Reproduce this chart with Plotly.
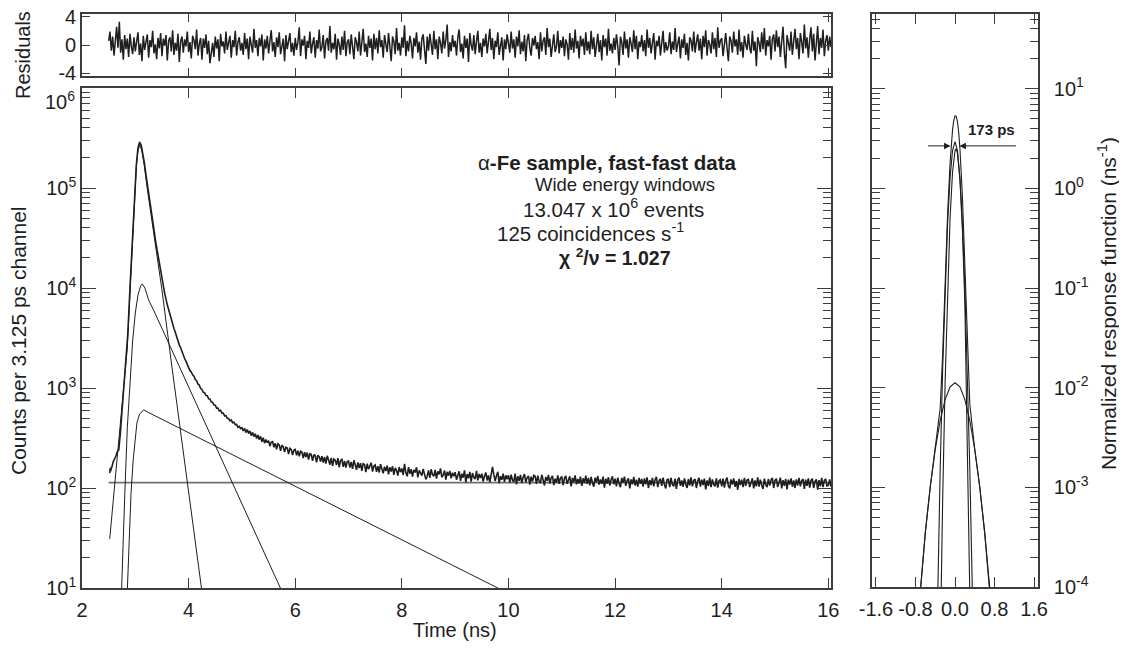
import numpy as np
import plotly.graph_objects as go

# measured spectrum, rise and peak region (ns, counts)
rise_t = [2.52, 2.53, 2.54, 2.55, 2.56, 2.58, 2.60, 2.62, 2.64, 2.66, 2.69, 2.72, 2.75, 2.79,
          2.82, 2.86, 2.90, 2.93, 2.96, 2.99, 3.02, 3.05, 3.08, 3.11, 3.14, 3.17, 3.20, 3.22,
          3.26, 3.30, 3.34, 3.38, 3.44, 3.50, 3.55, 3.60, 3.625, 3.65, 3.675, 3.70, 3.725,
          3.75, 3.775, 3.80, 3.825, 3.85, 3.875, 3.90, 3.925, 3.95, 3.975]
rise_counts = [141, 158, 147, 163, 160, 180, 189, 204, 211, 230, 240, 355, 600, 1120,
               1900, 3550, 10000, 22400, 45700, 91200, 174000, 251000, 288000, 269000, 224000, 178000, 135000, 112000,
               81000, 57500, 41700, 29500, 18600, 12000, 8900, 6790, 6030, 5460, 4850, 4390, 3930,
               3610, 3230, 2970, 2700, 2530, 2300, 2150, 1970, 1855, 1690]

# measured spectrum, tail: one channel every 0.025 ns from 4.0 ns
tail_start = 4.0
tail_step = 0.025
tail_counts = [
    1598, 1490, 1447, 1352, 1310, 1215, 1181, 1098, 1069, 990, 968, 905, 899, 843, 836, 781, 778, 725, 720, 676,
    672, 630, 631, 590, 598, 560, 561, 527, 529, 498, 496, 470, 480, 449, 455, 430, 433, 405, 414, 392,
    401, 372, 396, 358, 384, 350, 371, 334, 360, 327, 349, 312, 339, 305, 328, 290, 318, 281, 306, 284,
    297, 262, 288, 291, 255, 281, 243, 277, 270, 235, 268, 259, 229, 256, 251, 218, 249, 242, 214, 240,
    243, 212, 236, 208, 233, 229, 199, 228, 204, 226, 192, 220, 216, 187, 216, 210, 181, 213, 205, 184,
    208, 180, 204, 175, 210, 191, 171, 200, 166, 195, 190, 170, 199, 161, 189, 193, 163, 186, 160, 184,
    186, 160, 182, 155, 189, 171, 152, 180, 158, 177, 148, 175, 171, 144, 175, 154, 169, 179, 146, 166,
    170, 145, 165, 143, 173, 157, 140, 163, 148, 167, 137, 161, 146, 165, 135, 159, 150, 133, 162, 144,
    157, 135, 174, 142, 131, 162, 139, 154, 130, 152, 143, 161, 128, 150, 139, 133, 155, 137, 122, 131,
    150, 126, 154, 136, 131, 152, 124, 147, 137, 157, 128, 135, 150, 121, 145, 133, 148, 125, 142, 131,
    144, 121, 137, 147, 118, 139, 127, 150, 114, 138, 125, 145, 116, 141, 128, 123, 148, 119, 138, 126,
    139, 116, 132, 143, 119, 134, 114, 140, 163, 136, 117, 133, 145, 112, 131, 121, 139, 115, 134, 122,
    134, 113, 136, 120, 115, 139, 109, 131, 118, 135, 112, 128, 138, 114, 127, 132, 108, 130, 116, 134,
    131, 110, 133, 117, 112, 136, 115, 106, 129, 118, 135, 111, 126, 132, 107, 124, 113, 134, 110, 126,
    129, 107, 125, 132, 110, 122, 131, 104, 126, 114, 134, 109, 123, 111, 130, 105, 125, 112, 133, 110,
    126, 106, 129, 113, 103, 127, 114, 132, 108, 122, 110, 130, 101, 124, 111, 128, 106, 121, 131, 109,
    124, 104, 127, 111, 102, 126, 113, 130, 105, 119, 125, 99, 122, 109, 129, 106, 121, 103, 126, 110,
    123, 103, 125, 109, 128, 100, 120, 107, 126, 104, 121, 129, 102, 118, 124, 105, 127, 108, 99, 121,
    122, 102, 126, 108, 104, 124, 98, 120, 127, 105, 119, 103, 125, 109, 100, 123, 106, 128, 104, 119,
    123, 100, 118, 126, 103, 121, 107, 124, 97, 119, 105, 127, 102, 122, 108, 104, 125, 101, 118, 121,
    104, 124, 101, 119, 127, 105, 99, 122, 108, 125, 103, 118, 96, 123, 107, 121, 102, 126, 105, 120,
    122, 102, 117, 125, 99, 119, 104, 128, 103, 121, 107, 98, 124, 108, 102, 123, 106, 120, 126, 100,
    119, 124, 102, 116, 127, 99, 120, 105, 123, 97, 121, 108, 125, 103, 119, 100, 122, 106, 126, 104,
    118, 123, 98, 121, 105, 125, 101, 119, 124, 100, 116, 122, 96, 120, 104, 126, 102, 119, 123, 105,
    106, 122, 103]

# weighted residuals: one point every 0.025 ns from 2.5 ns
res_start = 2.5
res_step = 0.025
residuals = [
    0.6, 1.9, -0.8, 1.2, -1.5, 0.3, 2.6, -0.4, 3.3, -1.1, 0.8, -2.1, 1.4, -0.6, 0.9, -1.7, 1.6, -0.2, -1.3, 1.1,
    -0.9, 0.5, 1.8, -1.4, 0.2, -2.3, 1.3, -0.7, 0.4, 1.5, -1.8, 0.7, -0.3, 2.0, -1.2, 0.1, -2.0, 1.0, -0.5, 1.7,
    -1.6, 0.9, -0.1, 1.4, -2.2, 0.6, 1.1, -0.9, 2.1, -1.4, 0.3, -0.8, 1.6, -2.4, 0.5, 1.2, -1.1, 0.8, -0.2, 1.9,
    -1.0, 0.4, -1.9, 1.3, 0.7, -0.6, 2.2, -1.5, 0.2, 1.0, -2.1, 0.9, -0.4, 1.5, -1.3, 0.6, -2.6, -0.9, 0.3, -1.7,
    1.2, -0.5, 0.8, -2.3, 1.6, -0.2, 0.5, -1.2, 1.9, -0.7, 0.1, 1.3, -1.8, 0.7, -0.3, 2.0, -1.5, 0.4, 1.1, -0.8,
    0.3, -1.4, 1.7, -0.6, 0.9, -2.0, 1.2, 0.2, -1.1, 2.3, -0.4, 0.7, -1.6, 1.0, -0.2, 1.5, -2.2, 0.8, -0.5, 1.3,
    -1.2, 0.6, 2.1, -0.9, 0.4, -1.7, 1.1, -0.3, 1.8, -1.3, 0.2, 0.9, -2.3, 1.4, -0.6, 0.5, 1.7, -1.0, 0.3, -1.5,
    1.0, -0.7, 0.4, 2.5, -1.6, 0.8, -0.1, 1.3, -2.0, 0.6, -0.4, 1.9, -1.2, 0.2, 1.1, -1.8, 0.7, -0.5, 2.2, -0.9,
    -0.3, 1.4, -1.9, 0.5, 1.0, -0.8, 2.7, -1.1, 0.3, -0.6, 1.6, -2.1, 0.9, 0.1, -1.4, 1.2, -0.7, 2.0, -1.6, 0.4,
    0.8, -1.3, 1.5, -0.2, -2.0, 1.1, 0.4, -0.9, 1.9, -1.5, 0.6, 2.3, -1.0, 0.2, -1.7, 1.3, -0.4, 0.9, -2.2, 1.6,
    -0.6, 1.0, -1.2, 2.1, -0.3, 0.7, -1.8, 1.4, 0.1, -1.0, 1.7, -0.5, -2.3, 1.2, 0.5, -1.3, 2.4, -0.8, 0.3, -1.5,
    1.1, -0.4, 2.8, -1.6, 0.6, -0.9, 1.3, 0.2, -1.9, 1.0, -0.2, 1.8, -1.1, 0.5, -2.1, 0.9, 1.5, -0.7, -2.7, 1.2,
    -0.8, 1.6, -0.1, -1.4, 2.0, -0.6, 0.8, -2.0, 1.2, 0.3, -1.2, 1.9, -0.5, 0.7, 2.9, -1.7, 0.4, -0.9, 1.4, -0.3,
    0.6, -1.5, 1.1, 2.2, -1.0, 0.2, -1.9, 1.3, -0.4, 0.9, -2.4, 1.7, 0.0, -0.8, 1.4, -1.3, 0.5, 2.0, -1.1, 0.3,
    -1.7, 0.9, -0.2, 1.6, -1.2, 0.4, 2.3, -0.7, 1.0, -2.0, 0.6, -0.3, 1.8, -1.4, 0.2, 1.1, -2.2, 0.8, -0.6, 1.5,
    0.2, -1.1, 1.9, -0.5, 0.8, -1.8, 1.2, -0.2, 2.1, -1.3, 0.5, -0.9, 1.4, -2.3, 0.7, 1.6, -0.4, -1.5, 1.0, -0.1,
    1.3, -0.6, 0.4, -2.0, 1.8, -0.9, 0.6, 1.1, -1.4, 2.4, -0.3, 0.9, -1.7, 0.3, 1.5, -1.0, -0.2, 2.0, -1.2, 0.7,
    -0.4, 1.2, -1.6, 0.8, 0.1, -2.1, 1.7, -0.7, 1.0, -1.1, 2.2, -0.5, 0.6, -1.9, 1.3, -0.2, 0.9, -1.4, 1.8, -0.8,
    0.5, -1.3, 2.0, -0.6, 1.1, -1.7, 0.3, 1.6, -1.0, 0.7, -2.2, 1.4, -0.3, 0.9, -1.5, 2.3, -0.8, 0.2, -1.2, 1.0,
    -0.7, 1.5, -0.2, -2.9, 1.2, 0.4, -1.4, 1.9, -0.5, 0.8, -1.8, 1.1, 0.2, -1.0, 2.1, -0.6, 1.3, -2.0, 0.5, -0.3,
    1.4, -0.9, 0.7, -1.6, 2.2, -0.4, 1.0, -1.2, 0.3, 1.7, -2.1, 0.6, -0.2, 1.3, -1.5, 0.9, 2.0, -1.1, 0.4, -0.8,
    -0.2, 1.8, -1.3, 0.5, -0.7, 2.4, -1.0, 0.2, 1.2, -1.9, 0.8, -0.4, 1.6, -1.4, 0.3, -2.2, 1.1, 0.6, -0.9, 1.9,
    -1.1, 0.4, 1.5, -0.8, 0.9, -2.0, 1.3, -0.3, 2.1, -1.5, 0.7, 0.1, -1.2, 1.8, -0.6, 1.0, -1.7, 2.5, -0.4, 0.6,
    1.0, -1.6, 0.3, 1.7, -0.5, -2.3, 1.2, 0.6, -1.1, 1.9, -0.2, 0.8, -1.4, 2.2, -0.9, 0.4, -1.8, 1.3, 0.1, -0.7,
    1.6, -0.4, -1.2, 2.0, -0.8, 0.5, -3.0, 1.1, 0.3, -1.0, 1.8, -0.6, 2.4, -1.5, 0.7, -0.2, 1.3, -2.1, 0.9, 1.5,
    -0.9, 2.1, -0.3, 1.2, -1.7, 0.6, 2.6, -1.1, -3.3, 1.4, 0.2, -0.8, 1.9, -1.4, 0.5, 2.3, -0.6, 1.0, -2.0, 1.7,
    0.4, -1.2, 2.9, -0.5, 1.1, -1.8, 0.8, 2.5, -0.9, 1.6, -2.2, 0.3, 2.7, -1.3, 1.0, -0.4, 2.2, -1.6, 0.6, 1.4,
    -0.8, 1.2, -0.3]

# fitted lifetime components (ns, counts)
fast_t = [2.52, 2.58, 2.66, 2.75, 2.80, 2.85, 2.90, 2.96, 3.02, 3.05, 3.08, 3.12, 3.17, 3.22,
          3.30, 3.38, 3.50, 3.67, 3.80, 4.00, 4.24, 4.30]
fast_y = [31, 68, 191, 708, 1318, 2512, 8913, 44668, 165959, 234423, 269153, 239883, 165959, 102329,
          52481, 25704, 9550, 1905, 575, 91, 10, 5.8]
mid_t = [2.70, 2.75, 2.80, 2.85, 2.90, 2.95, 3.00, 3.05, 3.10, 3.13, 3.18, 3.25, 3.35, 3.50,
         4.00, 4.50, 5.00, 5.50, 5.72, 5.80]
mid_y = [2, 10, 79, 400, 1260, 2950, 5620, 8510, 10500, 11000, 10000, 7590, 5900, 3955,
         1028, 267, 69.5, 18.1, 10, 8.1]
long_t = [2.83, 2.85, 2.88, 2.92, 2.96, 3.00, 3.03, 3.08, 3.16, 3.22, 4.00, 6.00, 8.00, 9.80, 10.0]
long_y = [5, 10, 32, 89, 191, 331, 447, 550, 603, 578, 358, 104, 30.3, 10, 8.8]
bkg_t = [2.5, 16.05]
bkg_y = [113, 113]

# resolution function components (ns, ns^-1)
g1_x = [-0.40, -0.35, -0.30, -0.25, -0.20, -0.15, -0.10, -0.05, 0.0, 0.05, 0.10, 0.15, 0.20, 0.25, 0.30, 0.35, 0.40]
g1_y = [4.1e-6, 9.8e-5, 1.51e-3, 1.51e-2, 0.101, 0.443, 1.27, 2.39, 2.95, 2.39, 1.27, 0.443, 0.101, 1.51e-2, 1.51e-3, 9.8e-5, 4.1e-6]
g2_x = [-0.35, -0.30, -0.25, -0.20, -0.15, -0.10, -0.05, 0.0, 0.02, 0.05, 0.10, 0.15, 0.20, 0.25, 0.30, 0.35, 0.40]
g2_y = [6e-7, 2.8e-5, 7.4e-4, 1.14e-2, 0.100, 0.502, 1.45, 2.39, 2.5, 2.26, 1.22, 0.38, 6.76e-2, 6.9e-3, 4.0e-4, 1.35e-5, 1e-7]
broad_x = [-0.80, -0.70, -0.60, -0.50, -0.40, -0.30, -0.20, -0.10, 0.0, 0.10, 0.20, 0.30, 0.40, 0.50, 0.60, 0.70, 0.80]
broad_y = [2.4e-5, 1.02e-4, 3.55e-4, 1.02e-3, 2.4e-3, 4.68e-3, 7.59e-3, 1.02e-2, 1.12e-2, 1.02e-2, 7.59e-3, 4.68e-3, 2.4e-3, 1.02e-3, 3.55e-4, 1.02e-4, 2.4e-5]
sum_x = [-0.80, -0.70, -0.60, -0.50, -0.40, -0.30, -0.25, -0.20, -0.15, -0.10, -0.075, -0.05, -0.025, 0.0,
         0.025, 0.05, 0.075, 0.10, 0.15, 0.20, 0.25, 0.30, 0.40, 0.50, 0.60, 0.70, 0.80]
sum_y = [2.4e-5, 1.02e-4, 3.55e-4, 1.02e-3, 2.4e-3, 6.2e-3, 2.16e-2, 0.120, 0.552, 1.78, 2.77, 3.85, 4.80, 5.35,
         5.31, 4.66, 3.64, 2.50, 0.832, 0.176, 2.83e-2, 6.8e-3, 2.4e-3, 1.02e-3, 3.55e-4, 1.02e-4, 2.4e-5]
fwhm_level = 2.67  # half of the summed peak, ns^-1

# the page body keeps its default 8 px margin, so the figure is drawn inside it
PAGE_W, PAGE_H, BODY = 1127, 650, 8
W, H = PAGE_W - 2 * BODY, PAGE_H - 2 * BODY
FONT = "Liberation Sans, Arial, Helvetica, sans-serif"
INK = "#1e1e1e"
FRAME = "#3c3c3c"

data_t = list(rise_t) + list(tail_start + tail_step * np.arange(len(tail_counts)))
data_y = list(rise_counts) + list(tail_counts)
res_t = res_start + res_step * np.arange(len(residuals))


def px(x):
    # page pixel -> paper fraction
    return (x - BODY) / W


def py(y):
    return 1 - (y - BODY) / H


def logticks(lo, hi):
    return [m * 10.0 ** k for k in range(lo, hi) for m in range(2, 10)]


def sup(k):
    return "10<sup>%d</sup>" % k if k >= 0 else "10<sup>-%d</sup>" % (-k)


fig = go.Figure()

thin = dict(color=INK, width=1)
fig.add_trace(go.Scatter(x=bkg_t, y=bkg_y, mode="lines", line=dict(color="#707070", width=1.8), xaxis="x", yaxis="y"))
for tt, yy in [(fast_t, fast_y), (mid_t, mid_y), (long_t, long_y)]:
    fig.add_trace(go.Scatter(x=tt, y=yy, mode="lines", line=thin, xaxis="x", yaxis="y"))
fig.add_trace(go.Scatter(x=data_t, y=data_y, mode="lines", line=dict(color=INK, width=1.6), xaxis="x", yaxis="y"))

fig.add_trace(go.Scatter(x=res_t, y=residuals, mode="lines", line=dict(color=INK, width=1.5), xaxis="x2", yaxis="y2"))

for xx, yy in [(broad_x, broad_y), (g1_x, g1_y), (g2_x, g2_y), (sum_x, sum_y)]:
    fig.add_trace(go.Scatter(x=xx, y=yy, mode="lines", line=dict(color=INK, width=1.1), xaxis="x3", yaxis="y3"))

axis_common = dict(showgrid=False, zeroline=False, showline=True, linecolor=FRAME, linewidth=1.6,
                   mirror="ticks", ticks="inside", tickcolor=FRAME, tickwidth=1.2, automargin=False,
                   ticklabeloverflow="allow",
                   tickfont=dict(family=FONT, size=20, color=INK))

main_x_dom = [px(82), px(831)]
main_labels = [sup(k) for k in range(1, 6)] + [""]
fig.update_layout(
    width=W, height=H,
    margin=dict(l=0, r=0, t=0, b=0, pad=0),
    paper_bgcolor="white", plot_bgcolor="white",
    showlegend=False,
    xaxis=dict(axis_common, domain=main_x_dom, anchor="y", range=[2, 16.05],
               tickvals=[2, 4, 6, 8, 10, 12, 14, 16], ticklen=10, ticklabelstandoff=3),
    yaxis=dict(axis_common, domain=[py(588), py(88)], anchor="x", type="log", range=[1, 6],
               tickvals=[10.0 ** k for k in range(1, 7)], ticktext=main_labels,
               ticklen=14,
               minor=dict(tickmode="array", tickvals=logticks(1, 6), ticks="inside", ticklen=8,
                          tickcolor=FRAME, tickwidth=1, showgrid=False)),
    xaxis2=dict(axis_common, domain=main_x_dom, anchor="y2", matches="x",
                tickvals=[4, 6, 8, 10, 12, 14, 16], ticklen=8, showticklabels=False),
    yaxis2=dict(axis_common, domain=[py(76), py(14)], anchor="x2", range=[-4.4, 4.4],
                tickvals=[-4, 0, 4], ticktext=["-4", "0", "4"], ticklen=8),
    xaxis3=dict(axis_common, domain=[px(872), px(1038)], anchor="y3", range=[-1.68, 1.68],
                tickvals=[-1.6, -0.8, 0.0, 0.8, 1.6], ticktext=["-1.6", "-0.8", "0.0", "0.8", "1.6"],
                ticklen=10, ticklabelstandoff=3),
    yaxis3=dict(axis_common, domain=[py(587), py(14)], anchor="x3", type="log", range=[-4, 1.75],
                side="right", tickvals=[10.0 ** k for k in range(-4, 2)],
                ticktext=[sup(k) for k in range(-4, 2)], ticklen=13, ticklabelstandoff=10,
                minor=dict(tickmode="array", tickvals=logticks(-4, 2), ticks="inside", ticklen=8,
                           tickcolor=FRAME, tickwidth=1, showgrid=False)),
)

# top decade label sits a little low in the original, clear of the residual panel
fig.add_annotation(text=sup(6), x=px(77), y=py(101), xref="paper", yref="paper", showarrow=False,
                   xanchor="right", yanchor="middle", font=dict(family=FONT, size=20, color=INK))

notes = [
    ("α<b>-Fe sample, fast-fast data</b>", 607, 162, 20.5),
    ("Wide energy windows", 625, 184, 18.5),
    ("13.047 x 10<sup>6</sup> events", 613, 208, 20.5),
    ("125 coincidences s<sup>-1</sup>", 590, 232, 20.5),
    ("<b>χ <sup>2</sup>/ν = 1.027</b>", 615, 257, 19.5),
]
for text, x, y, size in notes:
    fig.add_annotation(text=text, x=px(x), y=py(y), xref="paper", yref="paper",
                       showarrow=False, font=dict(family=FONT, size=size, color=INK),
                       xanchor="center", yanchor="middle")

titles = [
    ("Residuals", 23, 55, -90, 20),
    ("Counts per 3.125 ps channel", 19, 341, -90, 21),
    ("Time (ns)", 455, 630, 0, 20),
    ("Normalized response function (ns<sup>-1</sup>)", 1107, 304, -90, 21),
]
for text, x, y, ang, size in titles:
    fig.add_annotation(text=text, x=px(x), y=py(y), xref="paper", yref="paper", showarrow=False,
                       textangle=ang, font=dict(family=FONT, size=size, color=INK),
                       xanchor="center", yanchor="middle")

# FWHM markers on the resolution function
half = np.log10(fwhm_level)
fig.add_annotation(x=-0.09, y=half, xref="x3", yref="y3", ax=-24, ay=0, text="",
                   showarrow=True, arrowhead=2, arrowsize=1.3, arrowwidth=1, arrowcolor=INK)
fig.add_annotation(x=0.09, y=half, xref="x3", yref="y3", ax=58, ay=0, text="",
                   showarrow=True, arrowhead=2, arrowsize=1.3, arrowwidth=1, arrowcolor=INK)
fig.add_annotation(text="<b>173 ps</b>", x=0.73, y=half + 0.06, xref="x3", yref="y3",
                   xanchor="center", yanchor="bottom", showarrow=False,
                   font=dict(family=FONT, size=15, color=INK))

fig.write_html("out.html")
